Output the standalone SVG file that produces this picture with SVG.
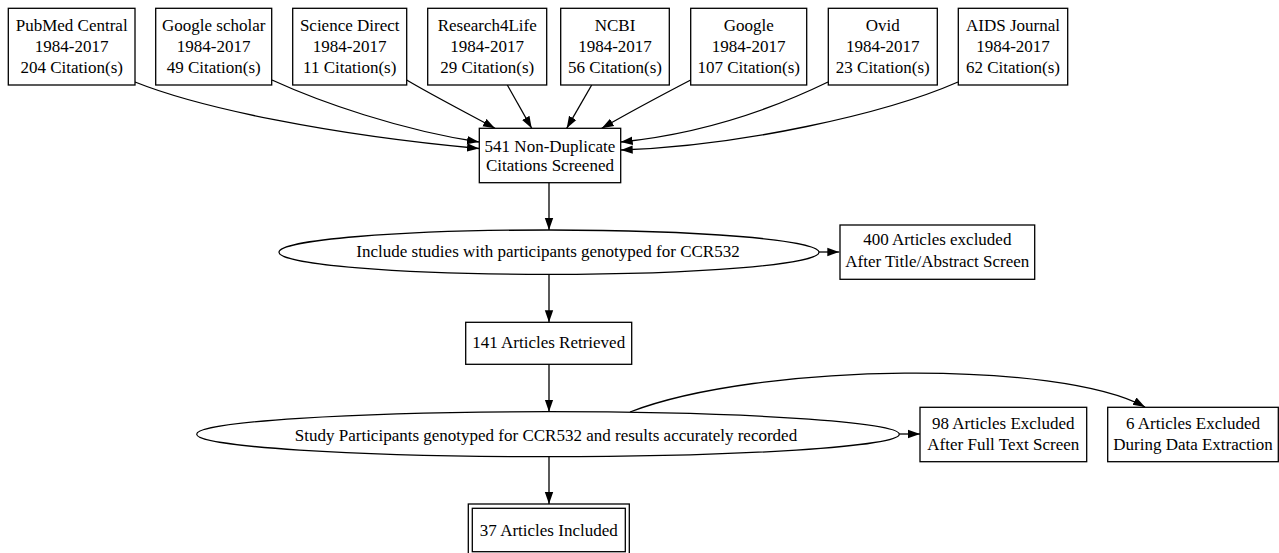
<svg xmlns="http://www.w3.org/2000/svg" width="1279" height="553" viewBox="0 0 1279 553">
<defs>
<marker id="ah" markerUnits="userSpaceOnUse" markerWidth="12" markerHeight="10" viewBox="0 0 12 10" refX="12" refY="5" orient="auto">
<path d="M0,0.8 L12,5 L0,9.2 z" fill="#000"/>
</marker>
<style>
.n{fill:#fff;stroke:#000;stroke-width:1.3}
.t{font-family:"Liberation Serif","Times New Roman",serif;font-size:17px;fill:#000;text-anchor:middle}
.e{fill:none;stroke:#000;stroke-width:1.3;marker-end:url(#ah)}
</style>
</defs>
<rect width="1279" height="553" fill="#fff"/>
<g id="connectors">
<path class="e" d="M135,82 C200,108 330,135 479,148.5"/>
<path class="e" d="M272,80 C320,102 400,130 479,142"/>
<path class="e" d="M406.7,80 C430,94 465,112 495,128.3"/>
<path class="e" d="M507.3,85 L531.7,128.3"/>
<path class="e" d="M591.7,85 L566.7,128.3"/>
<path class="e" d="M690.7,80 C660,96 630,112 601.7,128.3"/>
<path class="e" d="M828,82 C760,115 690,135 620.7,142"/>
<path class="e" d="M958,82 C885,114 740,146 620.7,150"/>
<path class="e" d="M549,182.7 L549,230"/>
<path class="e" d="M819,252 L839.3,252"/>
<path class="e" d="M549,274.3 L549,322.3"/>
<path class="e" d="M549,364.3 L549,411.7"/>
<path class="e" d="M899.3,434 L920,434"/>
<path class="e" d="M630,412 C760,362 1060,360 1145,407"/>
<path class="e" d="M549,456.7 L549,504"/>
</g>
<g id="pubmed">
<rect class="n" x="8.3" y="8.3" width="126.7" height="76.7"/>
<text class="t" x="71.7" y="30.5">PubMed Central</text>
<text class="t" x="71.7" y="51.7">1984-2017</text>
<text class="t" x="71.7" y="72.7">204 Citation(s)</text>
</g>
<g id="googlescholar">
<rect class="n" x="155.7" y="8.3" width="116" height="76.7"/>
<text class="t" x="213.7" y="30.5">Google scholar</text>
<text class="t" x="213.7" y="51.7">1984-2017</text>
<text class="t" x="213.7" y="72.7">49 Citation(s)</text>
</g>
<g id="sciencedirect">
<rect class="n" x="292.7" y="8.3" width="114" height="76.7"/>
<text class="t" x="349.7" y="30.5">Science Direct</text>
<text class="t" x="349.7" y="51.7">1984-2017</text>
<text class="t" x="349.7" y="72.7">11 Citation(s)</text>
</g>
<g id="research4life">
<rect class="n" x="427.7" y="8.3" width="119" height="76.7"/>
<text class="t" x="487.2" y="30.5">Research4Life</text>
<text class="t" x="487.2" y="51.7">1984-2017</text>
<text class="t" x="487.2" y="72.7">29 Citation(s)</text>
</g>
<g id="ncbi">
<rect class="n" x="560.7" y="8.3" width="108.6" height="76.7"/>
<text class="t" x="615" y="30.5">NCBI</text>
<text class="t" x="615" y="51.7">1984-2017</text>
<text class="t" x="615" y="72.7">56 Citation(s)</text>
</g>
<g id="google">
<rect class="n" x="690.7" y="8.3" width="116" height="76.7"/>
<text class="t" x="748.7" y="30.5">Google</text>
<text class="t" x="748.7" y="51.7">1984-2017</text>
<text class="t" x="748.7" y="72.7">107 Citation(s)</text>
</g>
<g id="ovid">
<rect class="n" x="828.3" y="8.3" width="109" height="76.7"/>
<text class="t" x="882.8" y="30.5">Ovid</text>
<text class="t" x="882.8" y="51.7">1984-2017</text>
<text class="t" x="882.8" y="72.7">23 Citation(s)</text>
</g>
<g id="aids">
<rect class="n" x="958.3" y="8.3" width="109.4" height="76.7"/>
<text class="t" x="1013" y="30.5">AIDS Journal</text>
<text class="t" x="1013" y="51.7">1984-2017</text>
<text class="t" x="1013" y="72.7">62 Citation(s)</text>
</g>
<g id="screened">
<rect class="n" x="479.3" y="128.3" width="141.4" height="54.4"/>
<text class="t" x="550" y="151.7">541 Non-Duplicate</text>
<text class="t" x="550" y="170.7">Citations Screened</text>
</g>
<g id="include">
<ellipse class="n" cx="549" cy="252.2" rx="270" ry="22.2"/>
<text class="t" x="548" y="256.5">Include studies with participants genotyped for CCR532</text>
</g>
<g id="excluded400">
<rect class="n" x="840" y="225" width="194.7" height="54.3"/>
<text class="t" x="937.3" y="245">400 Articles excluded</text>
<text class="t" x="937.3" y="266.7">After Title/Abstract Screen</text>
</g>
<g id="retrieved">
<rect class="n" x="465.7" y="322.3" width="166" height="42"/>
<text class="t" x="548.7" y="347.7">141 Articles Retrieved</text>
</g>
<g id="study">
<ellipse class="n" cx="548" cy="434.2" rx="351.3" ry="22.5"/>
<text class="t" x="546" y="441">Study Participants genotyped for CCR532 and results accurately recorded</text>
</g>
<g id="excluded98">
<rect class="n" x="920" y="407.3" width="166.7" height="54.4"/>
<text class="t" x="1003.3" y="429.3">98 Articles Excluded</text>
<text class="t" x="1003.3" y="450">After Full Text Screen</text>
</g>
<g id="excluded6">
<rect class="n" x="1107.7" y="407.3" width="170.6" height="54.4"/>
<text class="t" x="1193" y="429.3">6 Articles Excluded</text>
<text class="t" x="1193" y="450">During Data Extraction</text>
</g>
<g id="included">
<rect class="n" x="468.3" y="504" width="161" height="52"/>
<rect class="n" x="472.3" y="508.3" width="153" height="43.4"/>
<text class="t" x="548.8" y="535.7">37 Articles Included</text>
</g>
</svg>
